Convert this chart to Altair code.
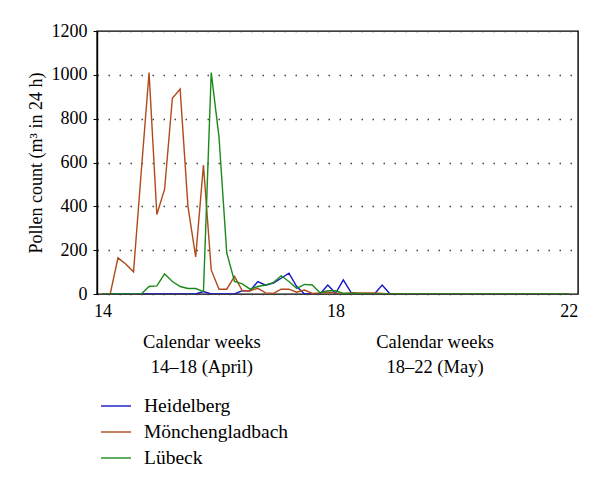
import altair as alt
import pandas as pd

days = list(range(61))

heidelberg = [0, 0, 0, 0, 0, 0, 0, 0, 0, 0, 0, 0, 0, 11, 0, 0, 0, 0, 15, 15,
              57, 40, 50, 72, 95, 34, 0, 0, 0, 41, 3, 64, 6, 0, 0, 0, 41, 0, 0, 0,
              0, 0, 0, 0, 0, 0, 0, 0, 0, 0, 0, 0, 0, 0, 0, 0, 0, 0, 0, 0, 0]
moenchengladbach = [0, 0, 165, 137, 101, 560, 1010, 363, 478, 893, 935, 401, 169, 588, 110, 22, 22, 80, 15, 15,
                    26, 5, 3, 22, 22, 8, 18, 3, 5, 8, 5, 3, 5, 5, 5, 5, 3, 0, 0, 0,
                    0, 0, 0, 0, 0, 0, 0, 0, 0, 0, 0, 0, 0, 0, 0, 0, 0, 0, 0, 0, 0]
luebeck = [0, 0, 0, 0, 0, 0, 34, 37, 92, 57, 34, 25, 25, 11, 1010, 716, 187, 57, 46, 22,
           34, 41, 52, 83, 57, 26, 44, 41, 6, 15, 15, 3, 2, 2, 0, 0, 0, 0, 0, 0,
           0, 0, 0, 0, 0, 0, 0, 0, 0, 0, 0, 0, 0, 0, 0, 0, 0, 0, 0, 0, 0]

series_names = ["Heidelberg", "Mönchengladbach", "Lübeck"]
series_colors = ["#1414c8", "#b04a1c", "#1a8a1a"]
tick_days = [0, 30, 60]

rows = []
for name, vals in zip(series_names, [heidelberg, moenchengladbach, luebeck]):
    for d, v in zip(days, vals):
        rows.append({"day": d, "count": v, "city": name})
df = pd.DataFrame(rows)

note_lines = pd.DataFrame({
    "day": [12.8, 12.8, 42.8, 42.8],
    "line": [0, 1, 0, 1],
    "text": ["Calendar weeks", "14–18 (April)", "Calendar weeks", "18–22 (May)"],
})

FONT = "Liberation Serif"
W, H = 481, 263

x_scale = alt.Scale(domain=[-0.7, 61.2], nice=False, zero=False)

lines = alt.Chart(df).mark_line(strokeWidth=1.4, clip=True).encode(
    x=alt.X("day:Q", scale=x_scale,
            axis=alt.Axis(values=tick_days, labelExpr="datum.value/7.5+14", title=None,
                          grid=False, ticks=False, domain=False, labelFontSize=18,
                          labelFont=FONT, labelColor="black", labelPadding=8,
                          labelFlush=False)),
    y=alt.Y("count:Q", scale=alt.Scale(domain=[0, 1200], nice=False),
            axis=alt.Axis(values=[0, 200, 400, 600, 800, 1000, 1200], format="d",
                          title="Pollen count (m³ in 24 h)", titleFont=FONT,
                          titleFontSize=18, titleFontWeight="normal", titleColor="black",
                          titlePadding=6, labelFont=FONT, labelFontSize=18,
                          labelColor="black", labelPadding=6, tickSize=4,
                          tickColor="black", domainColor="black", domainWidth=1.4,
                          grid=True, gridDash=[1.5, 9.5], gridColor="#444",
                          gridWidth=1.4)),
    color=alt.Color("city:N", sort=series_names,
                    scale=alt.Scale(domain=series_names, range=series_colors),
                    legend=alt.Legend(title=None, orient="none", legendX=3, legendY=359,
                                      symbolType="stroke", symbolSize=900,
                                      symbolStrokeWidth=1.4, labelFont=FONT,
                                      labelFontSize=19.5, labelColor="black",
                                      labelLimit=300, rowPadding=-7, labelOffset=12)),
    order=alt.Order("city_order:Q"),
).transform_calculate(
    city_order="indexof(['Heidelberg','Mönchengladbach','Lübeck'], datum.city)"
)

notes = alt.Chart(note_lines).mark_text(font=FONT, fontSize=18.5, color="black",
                                        baseline="middle", align="center").encode(
    x=alt.X("day:Q", scale=x_scale),
    y=alt.Y("line:Q", scale=alt.Scale(domain=[0, 1], range=[H + 48, H + 73]), axis=None),
    text="text:N",
)

chart = alt.layer(lines, notes).resolve_scale(y="independent").properties(
    width=W, height=H,
    autosize=alt.AutoSizeParams(type="none"),
    padding={"left": 89, "top": 23, "right": 14, "bottom": 180},
).configure_view(stroke="black", strokeWidth=1.4)

chart.save("out.html", embed_options={"renderer": "svg", "actions": False})
